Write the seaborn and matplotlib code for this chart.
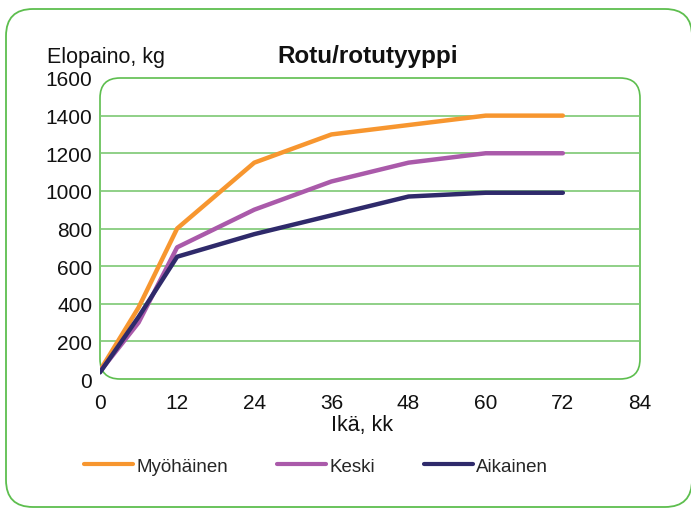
import matplotlib
matplotlib.use("Agg")
import matplotlib.pyplot as plt
from matplotlib.patches import FancyBboxPatch
import seaborn as sns
import pandas as pd

# Age in months and live weight (kg) per breed type
months = [0, 6, 12, 24, 36, 48, 60, 72]
myohainen = [45, 380, 800, 1150, 1300, 1350, 1400, 1400]
keski = [40, 300, 700, 900, 1050, 1150, 1200, 1200]
aikainen = [35, 330, 650, 770, 870, 970, 990, 990]
series_names = ["Myöhäinen", "Keski", "Aikainen"]
x_ticks = [0, 12, 24, 36, 48, 60, 72, 84]
y_ticks = [0, 200, 400, 600, 800, 1000, 1200, 1400, 1600]

df = pd.DataFrame({
    "Ikä": months * 3,
    "Paino": myohainen + keski + aikainen,
    "Tyyppi": [n for n in series_names for _ in months],
})

sns.set_style("white")
plt.rcParams["font.family"] = ["Liberation Sans", "DejaVu Sans"]

W, H = 691, 510
fig = plt.figure(figsize=(W / 100, H / 100), dpi=100)
fig.patch.set_facecolor("white")

green_frame = "#5DBE4E"
green_grid = "#7DC873"
text_col = "#111111"
palette = {"Myöhäinen": "#F7962F", "Keski": "#AA5AAA", "Aikainen": "#2F2A6B"}

# outer rounded panel (behind everything)
r_out = 27
fig.patches.append(FancyBboxPatch(
    (6 / W, 2 / H), 686 / W, 498 / H,
    boxstyle=f"round,pad=0,rounding_size={r_out / W}",
    mutation_aspect=W / H, transform=fig.transFigure,
    facecolor="none", edgecolor=green_frame, linewidth=1.3, zorder=-2))

ax_l, ax_b, ax_w, ax_h = 100, 130, 540, 301
ax = fig.add_axes([ax_l / W, ax_b / H, ax_w / W, ax_h / H])
ax.set_facecolor("none")
ax.set_zorder(2)

sns.lineplot(data=df, x="Ikä", y="Paino", hue="Tyyppi", palette=palette,
             hue_order=series_names, linewidth=3.2, ax=ax, legend=True,
             zorder=5)

ax.set_xlim(0, 84)
ax.set_ylim(0, 1600)
ax.set_xticks(x_ticks)
ax.set_yticks(y_ticks)
ax.set_xticklabels([str(v) for v in x_ticks], fontsize=15)
ax.set_yticklabels([str(v) for v in y_ticks], fontsize=15)
for s in ax.spines.values():
    s.set_visible(False)

# horizontal grid lines between the frame edges
for v in y_ticks[1:-1]:
    ax.axhline(v, color=green_grid, linewidth=1.2, zorder=1)

ax.tick_params(axis="x", direction="out", length=5, width=1.1,
               color=green_grid, pad=5, labelcolor=text_col)
ax.tick_params(axis="y", direction="out", length=4, width=1.1,
               color=green_grid, pad=1.5, labelcolor=text_col)
xt = ax.xaxis.get_major_ticks()
yt = ax.yaxis.get_major_ticks()
for t in (xt[0], xt[-1], yt[0], yt[-1]):
    t.tick1line.set_visible(False)

# rounded plot-area frame
r_in = 20
fig.patches.append(FancyBboxPatch(
    (ax_l / W, ax_b / H), ax_w / W, ax_h / H,
    boxstyle=f"round,pad=0,rounding_size={r_in / W}",
    mutation_aspect=W / H, transform=fig.transFigure,
    facecolor="none", edgecolor=green_frame, linewidth=1.2, zorder=1))

ax.set_xlabel("")
ax.set_ylabel("")
fig.text(47 / W, 1 - 57 / H, "Elopaino, kg", fontsize=15.5, ha="left",
         va="center", color=text_col)
fig.text(368 / W, 1 - 57 / H, "Rotu/rotutyyppi", fontsize=17.5,
         fontweight="bold", ha="center", va="center", color=text_col)
fig.text(362 / W, 1 - 425 / H, "Ikä, kk", fontsize=15.5, ha="center",
         va="center", color=text_col)

handles, labels = ax.get_legend_handles_labels()
for h in handles:
    h.set_linewidth(3.0)
ax.get_legend().remove()
fig.legend(handles, labels, loc="center left",
           bbox_to_anchor=(84 / W, 1 - 467 / H), ncol=3, frameon=False,
           fontsize=13.5, handlelength=2.6, handletextpad=0.2,
           columnspacing=2.6, borderaxespad=0, borderpad=0)

fig.savefig("out.png", dpi=100)
